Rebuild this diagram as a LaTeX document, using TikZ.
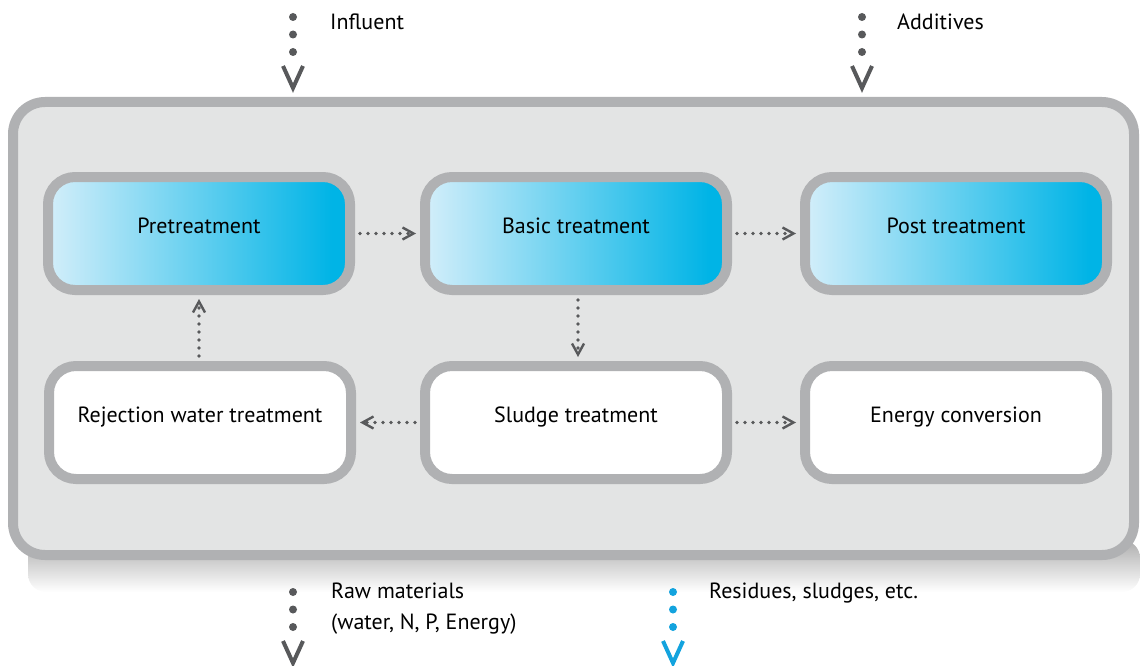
\documentclass[tikz,border=0pt]{standalone}
\usepackage{fontspec}
\setmainfont{PT Sans}
\usetikzlibrary{arrows.meta}
\definecolor{framegray}{HTML}{B0B1B3}
\definecolor{panel}{HTML}{E3E4E4}
\definecolor{dotgray}{HTML}{58595B}
\definecolor{lightblue}{HTML}{D3EEFA}
\definecolor{cyanblue}{HTML}{00B4E6}
\definecolor{resblue}{HTML}{13A3DE}
\pgfdeclarehorizontalshading{boxgrad}{100bp}{color(0bp)=(lightblue); color(25bp)=(lightblue); color(72bp)=(cyanblue); color(100bp)=(cyanblue)}
\tikzset{
  x=1pt, y=-1pt,
  lbl/.style={anchor=base west, inner sep=0pt, font=\fontsize{22}{31}\selectfont, text=black, align=left},
  box/.style={draw=framegray, line width=10pt, rounded corners=27pt,
    minimum width=302pt, minimum height=113pt, inner sep=0pt,
    text height=14pt, text depth=14pt,
    font=\fontsize{22}{26}\selectfont, text=black},
  bluebox/.style={box, shading=boxgrad},
  whitebox/.style={box, fill=white},
  plantbox/.style={draw=framegray, fill=panel, line width=10pt, rounded corners=32pt,
    minimum width=1121pt, minimum height=453pt, inner sep=0pt},
  flow/.style={draw=dotgray, line width=3.8pt, line cap=round, dash pattern=on 0pt off 8pt,
    -{Straight Barb[length=11pt, width=12pt, line width=2.4pt]},
    shorten <=5pt, shorten >=4pt},
  bigdots/.style={draw=#1, line width=8pt, line cap=round,
    dash pattern=on 0pt off 17.5pt on 0pt off 17.5pt on 0pt off 300pt},
  bighead/.style={draw=#1, line width=4pt, line cap=butt, line join=miter},
}
\begin{document}
\begin{tikzpicture}
\useasboundingbox (0,0) rectangle (1140,666);
% shadow under the plant frame
\shade[top color=black!32, bottom color=white, rounded corners=18pt] (28,540) rectangle (1140,592);
% plant frame
\node[plantbox] (plant) at (573.5,328.5) {};
% process boxes
\node[bluebox] (pre) at (199,233.5) {Pretreatment};
\node[bluebox] (basic) at (576,233.5) {Basic treatment};
\node[bluebox] (post) at (956,233.5) {Post treatment};
\node[whitebox] (rej) at (200,422.5) {Rejection water treatment};
\node[whitebox] (sludge) at (576,422.5) {Sludge treatment};
\node[whitebox] (energy) at (956,422.5) {Energy conversion};
% internal flows
\draw[flow] (pre.east) -- (basic.west);
\draw[flow] (basic.east) -- (post.west);
\draw[flow] (sludge.west) -- (rej.east);
\draw[flow] (sludge.east) -- (energy.west);
\draw[flow] (basic.south -| 578,0) -- (sludge.north -| 578,0);
\draw[flow] (rej.north -| 199,0) -- (pre.south -| 199,0);
% inputs and outputs
\coordinate (infl-a) at (293,17);
\coordinate (infl-b) at (293,88);
\draw[bigdots=dotgray] (infl-a) -- (infl-b);
\draw[bighead=dotgray] ([shift={(-10,-22)}]infl-b) -- (infl-b) -- ([shift={(10,-22)}]infl-b);
\node[lbl] (infl) at (330,30) {Influent};
\coordinate (add-a) at (862,17);
\coordinate (add-b) at (862,88);
\draw[bigdots=dotgray] (add-a) -- (add-b);
\draw[bighead=dotgray] ([shift={(-10,-22)}]add-b) -- (add-b) -- ([shift={(10,-22)}]add-b);
\node[lbl] (add) at (897,30) {Additives};
\coordinate (raw-a) at (293,592);
\coordinate (raw-b) at (293,663);
\draw[bigdots=dotgray] (raw-a) -- (raw-b);
\draw[bighead=dotgray] ([shift={(-10,-22)}]raw-b) -- (raw-b) -- ([shift={(10,-22)}]raw-b);
\node[lbl] (raw) at (331,629) {Raw materials\\(water, N, P, Energy)};
\coordinate (res-a) at (673,592);
\coordinate (res-b) at (673,663);
\draw[bigdots=resblue] (res-a) -- (res-b);
\draw[bighead=resblue] ([shift={(-10,-22)}]res-b) -- (res-b) -- ([shift={(10,-22)}]res-b);
\node[lbl] (res) at (709,598) {Residues, sludges, etc.};
\end{tikzpicture}
\end{document}
